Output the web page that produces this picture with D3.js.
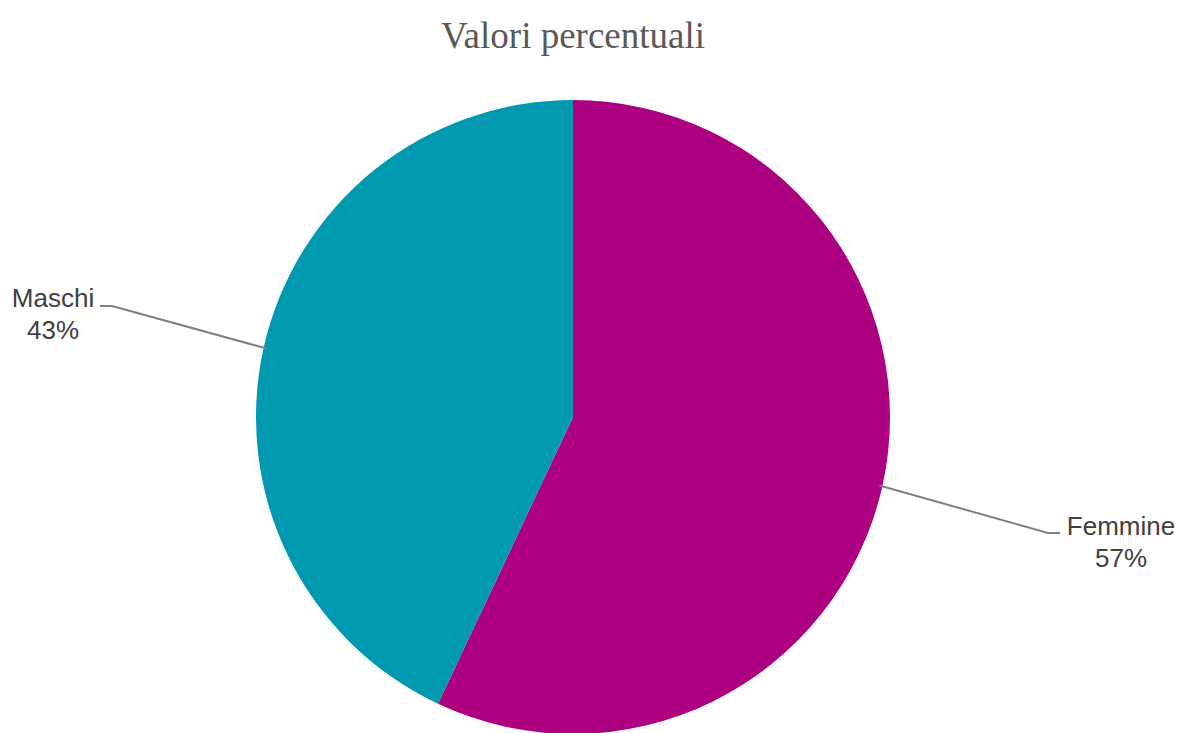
<!DOCTYPE html>
<html>
<head>
<meta charset="utf-8">
<script src="https://cdn.jsdelivr.net/npm/d3@7"></script>
<style>
  body { margin: 0; background: #fff; }
</style>
</head>
<body>
<script>
var categories = ['Femmine', 'Maschi'];
var values = [57, 43];
var colors = ['#ad0080', '#0099b0'];

var width = 1182,
  height = 733,
  cx = 573,
  cy = 417,
  radius = 317;

var svg = d3.select('body').append('svg')
  .attr('width', width)
  .attr('height', height);

svg.append('text')
  .attr('x', cx)
  .attr('y', 48)
  .attr('text-anchor', 'middle')
  .style('font-family', '"Liberation Serif", "DejaVu Serif", serif')
  .style('font-size', '37px')
  .style('fill', '#595959')
  .text('Valori percentuali');

var pie = d3.pie().sort(null);
var arc = d3.arc().innerRadius(0).outerRadius(radius);
var edge = d3.arc().innerRadius(radius - 3).outerRadius(radius - 3);

var g = svg.append('g')
  .attr('transform', `translate(${cx}, ${cy})`);

var arcs = pie(values);

g.selectAll('path')
  .data(arcs)
  .enter().append('path')
  .attr('fill', (d, i) => colors[i])
  .attr('d', arc);

// label placement: elbow point + text anchor, relative to the pie centre
var labelPos = [
  { elbow: [475, 116], end: [487, 116], text: [548, 118] },
  { elbow: [-461, -111], end: [-473, -111], text: [-520, -110] }
];

arcs.forEach(function(d, i) {
  var p = edge.centroid(d);
  var lp = labelPos[i];
  g.append('polyline')
    .attr('points', [p, lp.elbow, lp.end].map(q => q.join(',')).join(' '))
    .attr('fill', 'none')
    .attr('stroke', '#7f7f7f')
    .attr('stroke-width', 2);

  var t = g.append('text')
    .attr('x', lp.text[0])
    .attr('y', lp.text[1])
    .attr('text-anchor', 'middle')
    .style('font-family', '"Liberation Sans", Arial, sans-serif')
    .style('font-size', '26px')
    .style('fill', '#404040');
  t.append('tspan').attr('x', lp.text[0]).text(categories[i]);
  t.append('tspan').attr('x', lp.text[0]).attr('dy', 32).text(values[i] + '%');
});
</script>
</body>
</html>
